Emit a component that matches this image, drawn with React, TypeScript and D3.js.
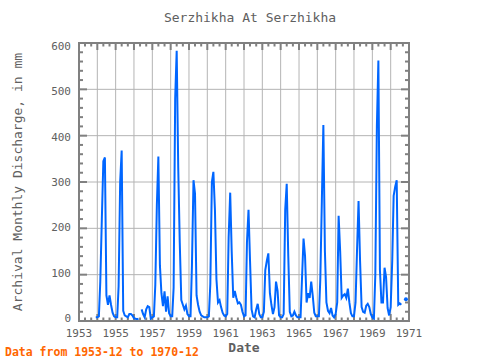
import React from 'react';
import * as d3 from 'd3';

const title = 'Serzhikha At Serzhikha';
const yTitle = 'Archival Monthly Discharge, in mm';
const xTitle = 'Date';
const footNote = 'Data from 1953-12 to 1970-12';

// first value is 1953-12, one value per month, null = missing
const firstYear = 1953;
const firstMonth = 11;
const discharge: (number | null)[] = [
  8,
  8, 10, 85, 220, 345, 353, 55, 35, 55, 35, 18, 10,
  8, 8, 75, 300, 368, 22, 12, 10, 8, 15, 15, 12,
  6, 5, 4, 5, null, 25, 15, 8, 25, 32, 30, 5,
  8, 10, 78, 250, 355, 120, 60, 32, 64, 20, 53, 17,
  10, 10, 72, 480, 583, 330, 170, 45, 35, 25, 33, 15,
  10, 10, 120, 304, 275, 55, 35, 20, 12, 10, 8, 8,
  8, 10, 80, 300, 322, 240, 90, 40, 45, 30, 18, 12,
  10, 15, 180, 277, 150, 50, 65, 50, 38, 40, 35, 20,
  10, 12, 170, 240, 130, 25, 10, 8, 25, 37, 15, 8,
  8, 20, 110, 130, 146, 60, 35, 15, 30, 85, 65, 12,
  8, 8, 15, 240, 296, 140, 20, 10, 12, 20, 12, 8,
  8, 8, 90, 178, 140, 40, 60, 50, 85, 55, 18, 10,
  10, 10, 90, 260, 423, 150, 40, 22, 17, 28, 12, 8,
  15, 40, 227, 150, 50, 55, 58, 50, 70, 40, 17, 10,
  10, 40, 150, 259, 130, 30, 20, 18, 33, 37, 30, 15,
  8, 5, 100, 420, 562, 110, 40, 40, 115, 95, 28, 12,
  30, 130, 270, 290, 304, 35, 38, 35, null, null, 47, null,
];

const xLabelYears = [1953, 1955, 1957, 1959, 1961, 1963, 1965, 1967, 1969, 1971];
const yTickValues = [0, 100, 200, 300, 400, 500, 600];

const W = 480;
const H = 360;
const left = 79, right = 409, top = 43, bottom = 321;
const font = 'DejaVu Sans Mono';
const frameColor = '#808080';
const gridColor = '#b4b4b4';
const textColor = '#606060';
const lineColor = '#0066ff';

type Pt = { date: Date; v: number | null };

export default function App() {
  const pts: Pt[] = discharge.map((v, i) => ({
    date: new Date(firstYear, firstMonth + i, 1),
    v,
  }));

  const x = d3.scaleTime()
    .domain([new Date(1953, 0, 1), new Date(1971, 0, 1)])
    .range([left, right]);
  const y = d3.scaleLinear().domain([0, 600]).range([bottom, top]);
  // tick labels sit a little inside the frame, like the original
  const yLab = d3.scaleLinear().domain([0, 600]).range([318, 46]);

  const line = d3.line<Pt>()
    .defined((d) => d.v != null)
    .x((d) => x(d.date))
    .y((d) => y(d.v as number));

  const isolated = pts.filter((d, i) =>
    d.v != null &&
    (i === 0 || pts[i - 1].v == null) &&
    (i === pts.length - 1 || pts[i + 1].v == null));

  const years = d3.timeYear.range(new Date(1953, 0, 1), new Date(1971, 0, 2));
  const minorX = d3.timeMonth.every(4)!.range(new Date(1953, 0, 1), new Date(1971, 0, 2));
  const minorY = d3.range(0, 601, 20);

  return (
    <svg width={W} height={H} style={{ position: 'absolute', left: 0, top: 0, background: '#fff' }}>
      <text x={250} y={22} textAnchor="middle" fontFamily={font} fontSize={13} fill={textColor}>{title}</text>

      {/* grid */}
      {years.map((d, i) => (
        <line key={'gx' + i} x1={x(d)} x2={x(d)} y1={top} y2={bottom} stroke={gridColor} strokeWidth={1} />
      ))}
      {yTickValues.map((v) => (
        <line key={'gy' + v} x1={left} x2={right} y1={y(v)} y2={y(v)} stroke={gridColor} strokeWidth={1} />
      ))}

      {/* ticks, pointing inward */}
      {minorX.map((d, i) => {
        const major = d.getMonth() === 0;
        const len = major ? 7 : 3.5;
        return (
          <g key={'tx' + i} stroke={frameColor} strokeWidth={2}>
            <line x1={x(d)} x2={x(d)} y1={top} y2={top + len} />
            <line x1={x(d)} x2={x(d)} y1={bottom} y2={bottom - len} />
          </g>
        );
      })}
      {minorY.map((v) => {
        const major = v % 100 === 0;
        const len = major ? 8 : 4;
        return (
          <g key={'ty' + v} stroke={frameColor} strokeWidth={2}>
            <line x1={left} x2={left + len} y1={y(v)} y2={y(v)} />
            <line x1={right} x2={right - len} y1={y(v)} y2={y(v)} />
          </g>
        );
      })}

      <path d={line(pts) || ''} fill="none" stroke={lineColor} strokeWidth={2} strokeLinejoin="miter" />
      {isolated.map((d, i) => (
        <circle key={'p' + i} cx={x(d.date)} cy={y(d.v as number)} r={2} fill={lineColor} />
      ))}

      <rect x={left} y={top} width={right - left} height={bottom - top} fill="none" stroke={frameColor} strokeWidth={2} />

      {yTickValues.map((v) => (
        <text key={'yl' + v} x={71} y={yLab(v)} dy="0.35em" textAnchor="end" fontFamily={font} fontSize={11} fill={textColor}>{v}</text>
      ))}
      {xLabelYears.map((yr) => (
        <text key={'xl' + yr} x={x(new Date(yr, 0, 1))} y={337} textAnchor="middle" fontFamily={font} fontSize={11} fill={textColor}>{yr}</text>
      ))}

      <text x={244} y={352} textAnchor="middle" fontFamily={font} fontSize={13} fontWeight="bold" fill={textColor}>{xTitle}</text>
      <text transform={`translate(17,${(top + bottom) / 2}) rotate(-90)`} textAnchor="middle" dy="0.35em" fontFamily={font} fontSize={13} fill={textColor}>{yTitle}</text>
      <text x={5} y={356} fontFamily={font} fontSize={11.5} fontWeight="bold" fill="#ff6600">{footNote}</text>
    </svg>
  );
}
